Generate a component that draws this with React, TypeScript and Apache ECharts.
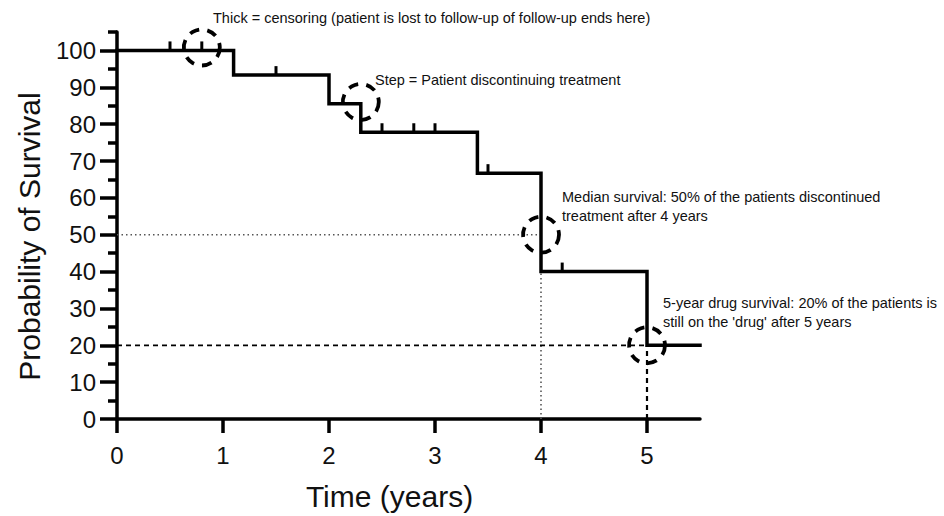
import React, { useEffect, useRef } from "react";
import * as echarts from "echarts";

// Kaplan-Meier curve (time in years, survival %)
const stepTimes = [0, 1.1, 2.0, 2.3, 3.4, 4.0, 5.0, 5.5];
const stepSurvival = [100, 93.3, 85.5, 77.8, 66.7, 40, 20, 20];

// censoring marks
const censorTimes = [0.5, 0.8, 1.5, 2.5, 2.8, 3.0, 3.5, 4.2];
const censorSurvival = [100, 100, 93.3, 77.8, 77.8, 77.8, 66.7, 40];

// dashed highlight circles
const circleTimes = [0.8, 2.3, 4.0, 5.0];
const circleSurvival = [100.8, 86, 50, 20];

// axis ticks
const xTicks = [0, 1, 2, 3, 4, 5];
const yMajorTicks = [0, 10, 20, 30, 40, 50, 60, 70, 80, 90, 100];
const yMinorTicks = [5, 15, 25, 35, 45, 55, 65, 75, 85, 95, 105];

// reference lines
const medianLevel = 50;
const medianTime = 4;
const medianCurveAt = 40;
const fiveYearLevel = 20;
const fiveYearTime = 5;

const annotations = [
  { text: "Thick = censoring (patient is lost to follow-up of follow-up ends here)", x: 213, y: 17 },
  { text: "Step = Patient discontinuing treatment", x: 375, y: 79 },
  { text: "Median survival: 50% of the patients discontinued\ntreatment after 4 years", x: 562, y: 205 },
  { text: "5-year drug survival: 20% of the patients is\nstill on the 'drug' after 5 years", x: 663, y: 311 },
];

const FONT = "'Liberation Sans', Arial, Helvetica, sans-serif";

export default function App() {
  const ref = useRef<HTMLDivElement>(null);

  useEffect(() => {
    document.body.style.margin = "0";
    const chart = echarts.init(ref.current!, null, { renderer: "svg" });
    const curve = stepTimes.map((t, i) => [t, stepSurvival[i]]);
    const censors = censorTimes.map((t, i) => [t, censorSurvival[i]]);
    const circles = circleTimes.map((t, i) => [t, circleSurvival[i]]);

    const option: any = {
      animation: false,
      backgroundColor: "#fff",
      textStyle: { fontFamily: FONT },
      grid: { left: 117, right: 244, top: 32, bottom: 95.5, containLabel: false },
      xAxis: {
        type: "value",
        min: 0,
        max: 5.5,
        name: "Time (years)",
        nameLocation: "middle",
        nameGap: 62,
        nameTextStyle: { fontSize: 30, color: "#111", fontFamily: FONT, padding: [0, 38, 0, 0] },
        axisLine: { show: true, lineStyle: { color: "#000", width: 3.5 } },
        axisTick: { show: true, length: 14, customValues: xTicks, lineStyle: { color: "#000", width: 3.5 } },
        axisLabel: { customValues: xTicks, fontSize: 24, color: "#111", margin: 24, fontFamily: FONT },
        splitLine: { show: false },
      },
      yAxis: [
        {
          type: "value",
          min: 0,
          max: 105,
          name: "Probability of Survival",
          nameLocation: "middle",
          nameGap: 73,
          nameTextStyle: { fontSize: 30, color: "#111", fontFamily: FONT, padding: [0, 22, 0, 0] },
          axisLine: { show: true, lineStyle: { color: "#000", width: 3.5 } },
          axisTick: { show: true, length: 17, customValues: yMajorTicks, lineStyle: { color: "#000", width: 3.5 } },
          axisLabel: { customValues: yMajorTicks, fontSize: 24, color: "#111", margin: 21, fontFamily: FONT },
          splitLine: { show: false },
        },
        {
          type: "value",
          min: 0,
          max: 105,
          position: "left",
          axisLine: { show: false },
          axisTick: { show: true, length: 9, customValues: yMinorTicks, lineStyle: { color: "#000", width: 3.5 } },
          axisLabel: { show: false },
          splitLine: { show: false },
        },
      ],
      series: [
        {
          type: "line",
          name: "median-h",
          data: [[0, medianLevel], [medianTime, medianLevel]],
          symbol: "none",
          lineStyle: { color: "#555", width: 1.6, type: [1.5, 3] },
          z: 1,
        },
        {
          type: "line",
          name: "median-v",
          data: [[medianTime, 0], [medianTime, medianCurveAt]],
          symbol: "none",
          lineStyle: { color: "#555", width: 1.6, type: [1.5, 3] },
          z: 1,
        },
        {
          type: "line",
          name: "five-h",
          data: [[0, fiveYearLevel], [fiveYearTime, fiveYearLevel]],
          symbol: "none",
          lineStyle: { color: "#000", width: 1.8, type: [5, 4] },
          z: 1,
        },
        {
          type: "line",
          name: "five-v",
          data: [[fiveYearTime, 0], [fiveYearTime, fiveYearLevel]],
          symbol: "none",
          lineStyle: { color: "#000", width: 2.2, type: [5, 4] },
          z: 1,
        },
        {
          type: "line",
          name: "survival",
          data: curve,
          step: "end",
          symbol: "none",
          lineStyle: { color: "#000", width: 3.5, cap: "square", join: "miter" },
          z: 3,
        },
        {
          type: "scatter",
          name: "censored",
          data: censors,
          symbol: "rect",
          symbolSize: [3, 9],
          symbolOffset: [0, -4.5],
          itemStyle: { color: "#000", opacity: 1 },
          z: 4,
        },
        {
          type: "scatter",
          name: "circles",
          data: circles,
          symbol: "circle",
          symbolSize: 36,
          itemStyle: {
            color: "rgba(0,0,0,0)",
            borderColor: "#000",
            borderWidth: 3.8,
            borderType: [10, 8],
            opacity: 1,
          },
          z: 5,
        },
      ],
      graphic: annotations.map((a) => ({
        type: "text",
        left: a.x,
        top: a.y - (a.text.includes("\n") ? 18 : 9),
        style: {
          text: a.text,
          fontSize: 14.5,
          lineHeight: 19,
          fill: "#111",
          fontFamily: FONT,
        },
      })),
    };
    chart.setOption(option);
    return () => chart.dispose();
  }, []);

  return <div ref={ref} style={{ width: 944, height: 516 }} />;
}
